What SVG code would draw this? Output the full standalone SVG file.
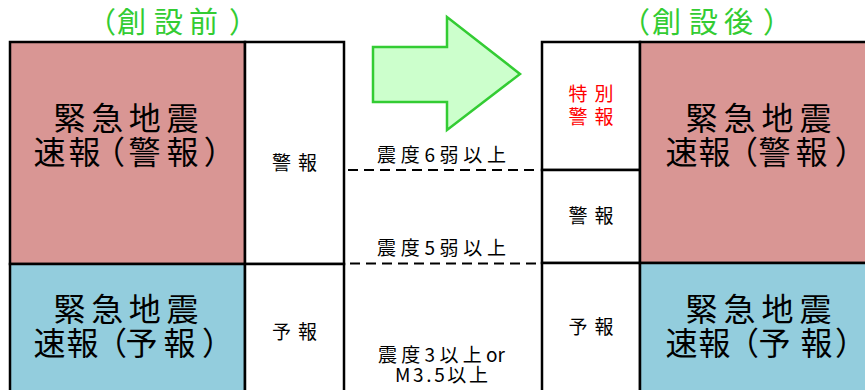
<svg xmlns="http://www.w3.org/2000/svg" width="865" height="390" viewBox="0 0 865 390">
<style>
text{font-family:"Noto Sans CJK JP","Noto Sans",sans-serif;fill:#000}
.c{text-anchor:middle}
.s{text-anchor:start}
.title{font-size:29px;fill:#33CC33}
.big{font-size:32px}
.sm{font-size:19px}
.red{fill:#FF0000}
.box{stroke:#000;stroke-width:2.5}
.pink{fill:#D99694}
.blue{fill:#93CDDD}
.white{fill:#FFFFFF}
.dash{stroke:#000;stroke-width:2;stroke-dasharray:10 6;fill:none}
</style>
<rect width="865" height="390" fill="#FFFFFF"/>
<g id="title-before"><text class="title s" x="87 117 154 189 229" y="33">（創設前）</text></g>
<g id="title-after"><text class="title s" x="621 652 689 724 763" y="33">（創設後）</text></g>
<g id="before-warning">
<rect class="box pink" x="10" y="42" width="235" height="222"/>
<text class="big c" x="126" y="130" textLength="145" lengthAdjust="spacing">緊急地震</text>
<text class="big s" x="33.5 68.5 93 128.5 166.5 203.8" y="164">速報（警報）</text>
</g>
<g id="before-forecast">
<rect class="box blue" x="10" y="264" width="235" height="140"/>
<text class="big c" x="126" y="321" textLength="145" lengthAdjust="spacing">緊急地震</text>
<text class="big s" x="33.5 66.5 95 125.5 163.5 202" y="355">速報（予報）</text>
</g>
<g id="before-keiho">
<rect class="box white" x="245" y="42" width="99" height="222"/>
<text class="sm c" x="294.5" y="170" textLength="45" lengthAdjust="spacing">警報</text>
</g>
<g id="before-yoho">
<rect class="box white" x="245" y="264" width="99" height="140"/>
<text class="sm c" x="294.5" y="339" textLength="45" lengthAdjust="spacing">予報</text>
</g>
<g id="arrow">
<polygon points="373,47 447,47 447,17 520,74 447,130 447,102 373,102" fill="#CCFFCC" stroke="#33CC33" stroke-width="2.5"/>
</g>
<g id="after-special">
<rect class="box white" x="542" y="42" width="98" height="128"/>
<text class="sm c red" x="591" y="101" textLength="45" lengthAdjust="spacing">特別</text>
<text class="sm c red" x="591" y="124" textLength="45" lengthAdjust="spacing">警報</text>
</g>
<g id="after-keiho">
<rect class="box white" x="542" y="170" width="98" height="93"/>
<text class="sm c" x="591" y="223" textLength="45" lengthAdjust="spacing">警報</text>
</g>
<g id="after-yoho">
<rect class="box white" x="542" y="263" width="98" height="141"/>
<text class="sm c" x="591" y="334" textLength="45" lengthAdjust="spacing">予報</text>
</g>
<g id="after-warning">
<rect class="box pink" x="640" y="42" width="240" height="221"/>
<text class="big c" x="758.5" y="130" textLength="146" lengthAdjust="spacing">緊急地震</text>
<text class="big s" x="665.5 698.5 726 758.5 795.5 834.8" y="164">速報（警報）</text>
</g>
<g id="after-forecast">
<rect class="box blue" x="640" y="263" width="240" height="141"/>
<text class="big c" x="758.5" y="321" textLength="146" lengthAdjust="spacing">緊急地震</text>
<text class="big s" x="665.5 698.5 727 758.5 800.5 835" y="355">速報（予報）</text>
</g>
<g id="connectors">
<line class="dash" x1="348" y1="170" x2="537" y2="170"/>
<line class="dash" x1="350" y1="263.5" x2="537" y2="263.5"/>
</g>
<g id="labels">
<text class="sm c" x="441.5" y="162" textLength="129" lengthAdjust="spacing">震度6弱以上</text>
<text class="sm c" x="441.5" y="255" textLength="129" lengthAdjust="spacing">震度5弱以上</text>
<text class="sm s" x="378" y="362"><tspan style="letter-spacing:4.3px">震度3以上</tspan><tspan>or</tspan></text>
<text class="sm c" x="441.5" y="382" textLength="93" lengthAdjust="spacing">M3.5以上</text>
</g>
</svg>
